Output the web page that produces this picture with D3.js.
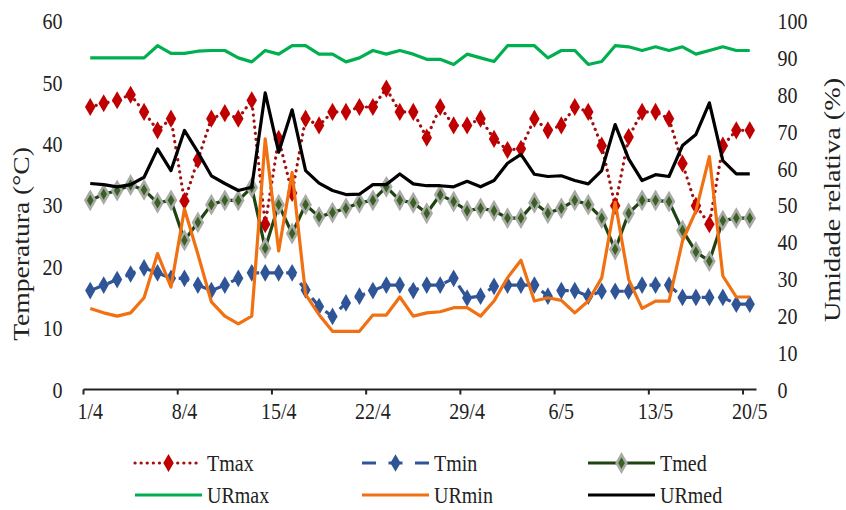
<!DOCTYPE html>
<html>
<head>
<meta charset="utf-8">
<script src="https://cdn.jsdelivr.net/npm/d3@7"></script>
<style>
  html, body { margin: 0; padding: 0; background: #ffffff; }
  svg { display: block; }
  svg text { font-family: "Liberation Serif", "Tinos", "Times New Roman", "DejaVu Serif", serif !important; fill: #222; }
</style>
</head>
<body>
<svg id="chart" width="846" height="510"></svg>
<script>
// Daily dates, 1 April to 20 May
const dates = [
  "1/4","2/4","3/4","4/4","5/4","6/4","7/4","8/4","9/4","10/4",
  "11/4","12/4","13/4","14/4","15/4","16/4","17/4","18/4","19/4","20/4",
  "21/4","22/4","23/4","24/4","25/4","26/4","27/4","28/4","29/4","30/4",
  "1/5","2/5","3/5","4/5","5/5","6/5","7/5","8/5","9/5","10/5",
  "11/5","12/5","13/5","14/5","15/5","16/5","17/5","18/5","19/5","20/5"
];
const dateTicks = ["1/4","8/4","15/4","22/4","29/4","6/5","13/5","20/5"];
const tempTicks = [0, 10, 20, 30, 40, 50, 60];
const rhTicks = [0, 10, 20, 30, 40, 50, 60, 70, 80, 90, 100];

// Air temperature (°C)
const tmax = [46,46.6,47.1,48,45.2,42.2,44.1,30.7,37.4,44.1,45,44.1,47.1,26.9,40.8,32,44.1,43,45.2,45.2,
  46,46,49,45.2,45.2,41,46,43,43,44.1,40.8,39,39.2,44.1,42.2,43,46,45.2,39.7,29.9,
  41.1,45.2,45.2,44.1,36.8,29.9,26.9,39.7,42.2,42.2];
const tmin = [16.1,17,17.9,18.8,19.8,19,18.1,18.1,17,16.1,17,18.1,19,19,19,19,16.2,13.5,11.9,14.1,
  15.2,16.1,17,17,16.1,17,17,18.1,14.9,15.2,16.8,17,17,17,15.2,16.1,16.1,15.2,16,16,
  16,17,17,17,15,15,15,15,13.9,13.9];
const tmed = [30.8,31.8,32.4,33.3,32.5,30.4,30.8,24.3,27.2,30.1,30.8,30.8,32.9,23,30.1,25.4,30.1,28.1,28.8,29.5,
  30.4,30.8,33,30.8,30.4,28.7,31.7,30.6,29.1,29.5,29.1,27.9,27.9,30.4,28.7,29.5,30.8,30.1,27.9,22.8,
  28.7,30.8,30.8,30.6,25.9,22.4,20.9,27.5,27.9,27.9];

// Relative humidity (%)
const urmax = [90,90,90,90,90,93.3,91.2,91.2,91.8,92,92,90,88.9,92,91,93.3,93.3,91,91,88.9,
  90,92,91,92,91,89.6,89.6,88.2,91,90,89,93.3,93.3,93.3,90,92,92,88.2,89,93.3,
  93,92,93,92,93,91,92,93,92,92];
const urmin = [22,20.8,19.9,20.8,24.9,36.9,27.8,49,36.7,23.8,19.9,17.8,19.9,68,37.6,58.9,25.8,20.3,15.8,15.8,
  15.8,20.2,20.2,25.1,19.9,20.8,21.1,22.2,22.2,19.9,24,30.3,35.1,24,24.9,24.2,20.8,24,30.3,50.8,
  29.9,22,24,24,40.3,48.5,63.2,30.8,25.1,25.1];
const urmed = [55.9,55.6,55,55.6,57.6,65.3,59.4,70.3,64.4,58,55.9,54,54.9,80.5,64.4,75.9,59.4,56,54,52.9,
  53,55.6,55.6,58.5,55.8,55.3,55.3,55,56.5,55,56.7,61.4,63.8,58.4,57.8,58,56.7,55.8,59.4,71.9,
  62.6,56.7,58.3,57.8,66.2,69.2,77.8,62.1,58.5,58.5];

const svg = d3.select("#chart");
const plot = { left: 83.5, right: 756.5, top: 21, bottom: 389.5 };
const FONT = "'Liberation Serif', 'Tinos', 'Times New Roman', 'DejaVu Serif', serif";
const TALL = 1.2; // glyphs are drawn slightly taller than wide

const x = d3.scaleBand().domain(dates).range([plot.left, plot.right]).paddingInner(0).paddingOuter(0);
const xc = d => x(d) + x.bandwidth() / 2;
const yT = d3.scaleLinear().domain([0, 60]).range([plot.bottom, plot.top]);
const yR = d3.scaleLinear().domain([0, 100]).range([plot.bottom, plot.top]);

// Stretch axis label glyphs vertically around their own anchor
function tallLabels(g, size) {
  g.attr("font-family", FONT);
  g.selectAll("text").each(function () {
    const t = d3.select(this);
    const tx = +t.attr("x") || 0, ty = +t.attr("y") || 0;
    t.attr("x", 0).attr("y", 0)
      .attr("font-size", size)
      .attr("fill", "#222")
      .attr("transform", `translate(${tx},${ty}) scale(1,${TALL})`);
  });
}

// Horizontal category axis: ticks on category boundaries, labels centred on categories
const xAxis = svg.append("g").attr("class", "x-axis");
xAxis.append("line")
  .attr("x1", plot.left).attr("x2", plot.right)
  .attr("y1", plot.bottom).attr("y2", plot.bottom)
  .attr("stroke", "#222").attr("stroke-width", 2);
xAxis.selectAll("line.tick").data(dateTicks).join("line")
  .attr("class", "tick")
  .attr("x1", d => x(d)).attr("x2", d => x(d))
  .attr("y1", plot.bottom).attr("y2", plot.bottom + 5)
  .attr("stroke", "#222").attr("stroke-width", 2);
const xLab = svg.append("g").attr("transform", `translate(0,${plot.bottom})`)
  .call(d3.axisBottom(x).tickValues(dateTicks).tickSize(0).tickPadding(12));
xLab.select(".domain").remove();
tallLabels(xLab, 20);

// Left axis: temperature
const yl = svg.append("g").attr("transform", `translate(${plot.left},0)`)
  .call(d3.axisLeft(yT).tickValues(tempTicks).tickSize(0).tickPadding(21));
yl.select(".domain").remove();
tallLabels(yl, 20);

// Right axis: relative humidity
const yr = svg.append("g").attr("transform", `translate(${plot.right},0)`)
  .call(d3.axisRight(yR).tickValues(rhTicks).tickSize(0).tickPadding(21));
yr.select(".domain").remove();
tallLabels(yr, 20);

// Axis titles
svg.append("text")
  .attr("transform", `translate(29,244) rotate(-90) scale(${TALL},1)`)
  .attr("text-anchor", "middle").attr("font-size", 23).attr("font-family", FONT)
  .text("Temperatura (°C)");
svg.append("text")
  .attr("transform", `translate(840,200) rotate(-90) scale(${TALL},1)`)
  .attr("text-anchor", "middle").attr("font-size", 23.5).attr("font-family", FONT)
  .text("Umidade relativa (%)");

const diamond = d3.symbol().type(d3.symbolDiamond);

const series = [
  { name: "Tmax", values: tmax, y: yT, stroke: "#a01010", width: 3.2, dash: "0.1 6", legendDash: "0.1 6", cap: "round",
    marker: { fill: "#c00000", stroke: "#c00000", sw: 0, size: 95 } },
  { name: "Tmin", values: tmin, y: yT, stroke: "#2f5597", width: 3.2, dash: "11 8", legendDash: "14 12.5", cap: "butt",
    marker: { fill: "#2f5597", stroke: "#2f5597", sw: 0, size: 90 } },
  { name: "Tmed", values: tmed, y: yT, stroke: "#1f4412", width: 3.2, dash: null, cap: "butt",
    marker: { fill: "#3a6024", stroke: "#a8aaa6", sw: 2.6, size: 80 } },
  { name: "URmax", values: urmax, y: yR, stroke: "#00b050", width: 3.2, dash: null, cap: "butt", marker: null },
  { name: "URmin", values: urmin, y: yR, stroke: "#f07012", width: 3.2, dash: null, cap: "butt", marker: null },
  { name: "URmed", values: urmed, y: yR, stroke: "#000000", width: 3.2, dash: null, cap: "butt", marker: null }
];

const plotG = svg.append("g");
series.forEach(s => {
  const g = plotG.append("g").attr("class", "series");
  const line = d3.line().x((d, i) => xc(dates[i])).y(d => s.y(d));
  g.append("path")
    .attr("d", line(s.values))
    .attr("fill", "none")
    .attr("stroke", s.stroke)
    .attr("stroke-width", s.width)
    .attr("stroke-linejoin", "round")
    .attr("stroke-linecap", s.cap)
    .attr("stroke-dasharray", s.dash);
  if (s.marker) {
    g.selectAll("path.mk").data(s.values).join("path")
      .attr("class", "mk")
      .attr("d", diamond.size(s.marker.size)())
      .attr("transform", (d, i) => `translate(${xc(dates[i])},${s.y(d)})`)
      .attr("fill", s.marker.fill)
      .attr("stroke", s.marker.stroke)
      .attr("stroke-width", s.marker.sw);
  }
});

// Legend, two rows of three entries
const legendPos = [
  { x: 135, y: 463 }, { x: 362, y: 463 }, { x: 588, y: 463 },
  { x: 135, y: 495 }, { x: 362, y: 495 }, { x: 588, y: 495 }
];
const sampleW = 67;
series.forEach((s, k) => {
  const p = legendPos[k];
  const g = svg.append("g").attr("transform", `translate(${p.x},${p.y})`);
  g.append("line")
    .attr("x1", 0).attr("x2", sampleW).attr("y1", 0).attr("y2", 0)
    .attr("stroke", s.stroke).attr("stroke-width", s.width)
    .attr("stroke-linecap", s.cap).attr("stroke-dasharray", s.legendDash || null);
  if (s.marker) {
    g.append("path")
      .attr("d", diamond.size(s.marker.size)())
      .attr("transform", `translate(${sampleW / 2},0)`)
      .attr("fill", s.marker.fill).attr("stroke", s.marker.stroke)
      .attr("stroke-width", s.marker.sw);
  }
  g.append("text")
    .attr("transform", `translate(${sampleW + 5},0) scale(1,1.15)`)
    .attr("dy", "0.33em")
    .attr("font-size", 20).attr("font-family", FONT)
    .text(s.name);
});
</script>
</body>
</html>
